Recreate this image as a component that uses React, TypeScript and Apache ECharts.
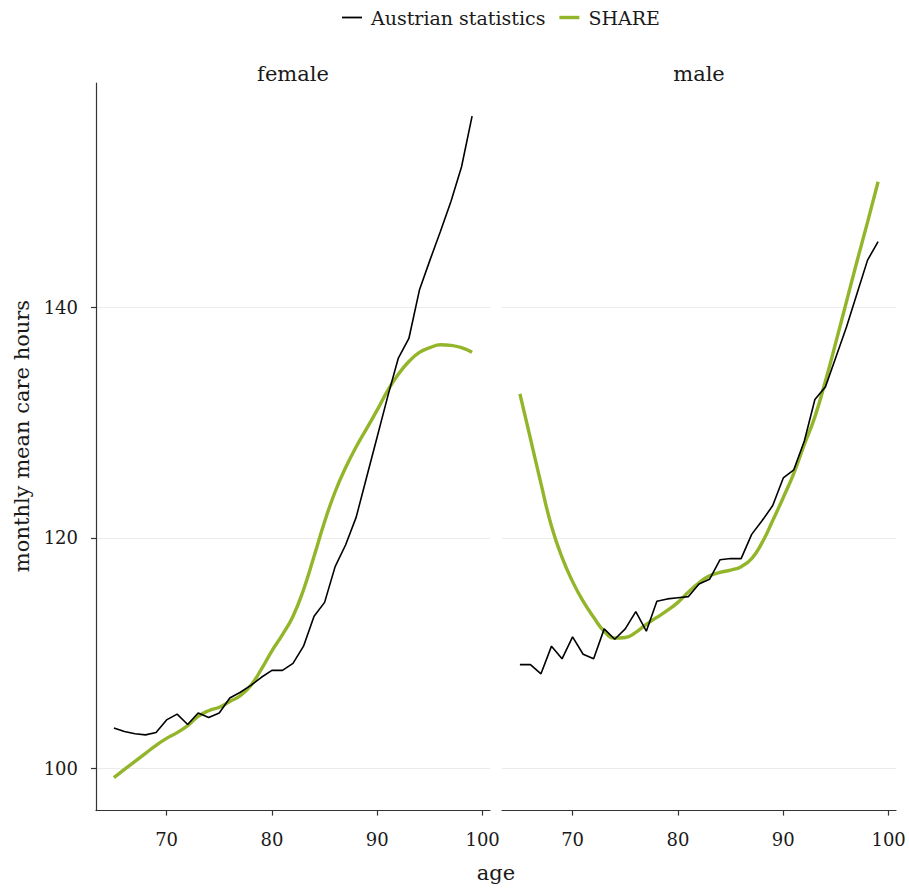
import React, { useEffect, useRef } from 'react';
import * as echarts from 'echarts';

const ages = [65, 66, 67, 68, 69, 70, 71, 72, 73, 74, 75, 76, 77, 78, 79, 80, 81, 82, 83, 84, 85, 86, 87, 88, 89, 90, 91, 92, 93, 94, 95, 96, 97, 98, 99];

const femaleAustrian = [103.5, 103.2, 103.0, 102.9, 103.1, 104.2, 104.7, 103.8, 104.8, 104.4, 104.8, 106.1, 106.6, 107.2, 107.9, 108.5, 108.5, 109.1, 110.6, 113.2, 114.4, 117.5, 119.4, 121.8, 125.3, 128.8, 132.3, 135.6, 137.3, 141.5, 144.1, 146.6, 149.2, 152.2, 156.6];
const femaleShare = [99.2, 99.9, 100.6, 101.3, 102.0, 102.6, 103.1, 103.7, 104.5, 105.0, 105.3, 105.8, 106.3, 107.2, 108.6, 110.2, 111.6, 113.2, 115.5, 118.4, 121.4, 124.0, 126.1, 127.9, 129.5, 131.1, 132.8, 134.2, 135.3, 136.1, 136.5, 136.75, 136.7, 136.5, 136.1];
const maleAustrian = [109.0, 109.0, 108.2, 110.6, 109.5, 111.4, 109.9, 109.5, 112.1, 111.2, 112.1, 113.6, 111.9, 114.5, 114.7, 114.8, 114.9, 116.0, 116.4, 118.1, 118.2, 118.2, 120.3, 121.5, 122.8, 125.2, 125.9, 128.4, 132.0, 133.1, 135.7, 138.3, 141.2, 144.1, 145.7];
const maleShare = [132.5, 128.6, 124.7, 121.0, 118.3, 116.2, 114.5, 113.1, 111.9, 111.3, 111.35, 111.8, 112.5, 113.1, 113.7, 114.4, 115.3, 116.1, 116.7, 117.0, 117.2, 117.5, 118.2, 119.6, 121.5, 123.5, 125.6, 128.1, 130.5, 133.6, 137.0, 140.5, 144.0, 147.4, 150.9];

const panelNames = ['female', 'male'];
const seriesNames = ['Austrian statistics', 'SHARE'];
const xTicks = [70, 80, 90, 100];
const yTicks = [100, 120, 140];
const xTitle = 'age';
const yTitle = 'monthly mean care hours';

const FONT = '"DejaVu Serif", serif';
const BLACK = '#000000';
const GREEN = '#93b52a';
const AXIS = '#333333';
const GRIDC = '#ebebeb';

export default function App() {
  const ref = useRef<HTMLDivElement>(null);

  useEffect(() => {
    if (!ref.current) return;
    const chart = echarts.init(ref.current, null, { renderer: 'svg' });
    const pair = (vals: number[]) => ages.map((a, i) => [a, vals[i]]);

    const grids = [
      { left: 96, top: 83, width: 394, height: 727.6 },
      { left: 502, top: 83, width: 394, height: 727.6 },
    ];
    const panelData = [
      [femaleAustrian, femaleShare],
      [maleAustrian, maleShare],
    ];

    const xAxis = grids.map((_, i) => ({
      type: 'value',
      gridIndex: i,
      min: 63.3,
      max: 100.7,
      axisLine: { show: true, onZero: false, lineStyle: { color: AXIS, width: 1.2 } },
      axisTick: { show: true, length: 5, customValues: xTicks, lineStyle: { color: AXIS, width: 1.2 } },
      axisLabel: { customValues: xTicks, margin: 20, fontSize: 18, color: '#1a1a1a', fontFamily: FONT },
      splitLine: { show: false },
    }));

    const yAxis = grids.map((_, i) => ({
      type: 'value',
      gridIndex: i,
      min: 96.33,
      max: 159.47,
      axisLine: { show: i === 0, onZero: false, lineStyle: { color: AXIS, width: 1.2 } },
      axisTick: { show: i === 0, length: 5, customValues: yTicks, lineStyle: { color: AXIS, width: 1.2 } },
      axisLabel: { show: i === 0, customValues: yTicks, margin: 18, fontSize: 18, color: '#1a1a1a', fontFamily: FONT },
      splitLine: { show: true, lineStyle: { color: GRIDC, width: 1 } },
    }));

    const series: any[] = [];
    panelData.forEach((pd, i) => {
      series.push({
        name: seriesNames[1],
        type: 'line',
        xAxisIndex: i,
        yAxisIndex: i,
        data: pair(pd[1]),
        smooth: true,
        symbol: 'none',
        showSymbol: false,
        z: 2,
        lineStyle: { color: GREEN, width: 3.4 },
        itemStyle: { color: GREEN },
      });
      series.push({
        name: seriesNames[0],
        type: 'line',
        xAxisIndex: i,
        yAxisIndex: i,
        data: pair(pd[0]),
        symbol: 'none',
        showSymbol: false,
        z: 3,
        lineStyle: { color: BLACK, width: 1.6 },
        itemStyle: { color: BLACK },
      });
    });

    const textStyleBase = { fontFamily: FONT, fill: '#1a1a1a' };

    chart.setOption({
      animation: false,
      backgroundColor: '#ffffff',
      legend: {
        left: 337,
        top: 3,
        itemWidth: 20,
        itemHeight: 14,
        itemGap: 14,
        data: [
          { name: seriesNames[0], icon: 'path://M0,0M20,14M0,6.1h20v1.8h-20z', itemStyle: { color: BLACK } },
          { name: seriesNames[1], icon: 'path://M0,0M20,14M0,5.3h20v3.4h-20z', itemStyle: { color: GREEN } },
        ],
        textStyle: { fontFamily: FONT, fontSize: 19, color: '#1a1a1a', padding: [0, 0, 0, 4] },
      },
      grid: grids,
      xAxis,
      yAxis,
      series,
      graphic: [
        { type: 'text', x: 293, y: 74, style: { ...textStyleBase, text: panelNames[0], fontSize: 21, textAlign: 'center', textVerticalAlign: 'middle' } },
        { type: 'text', x: 699, y: 74, style: { ...textStyleBase, text: panelNames[1], fontSize: 21, textAlign: 'center', textVerticalAlign: 'middle' } },
        { type: 'text', x: 496, y: 873, style: { ...textStyleBase, text: xTitle, fontSize: 21, textAlign: 'center', textVerticalAlign: 'middle' } },
        { type: 'text', x: 22, y: 436, rotation: Math.PI / 2, style: { ...textStyleBase, text: yTitle, fontSize: 21, textAlign: 'center', textVerticalAlign: 'middle' } },
      ],
    });

    return () => chart.dispose();
  }, []);

  return <div ref={ref} style={{ position: 'fixed', left: 0, top: 0, width: 909, height: 889 }} />;
}
